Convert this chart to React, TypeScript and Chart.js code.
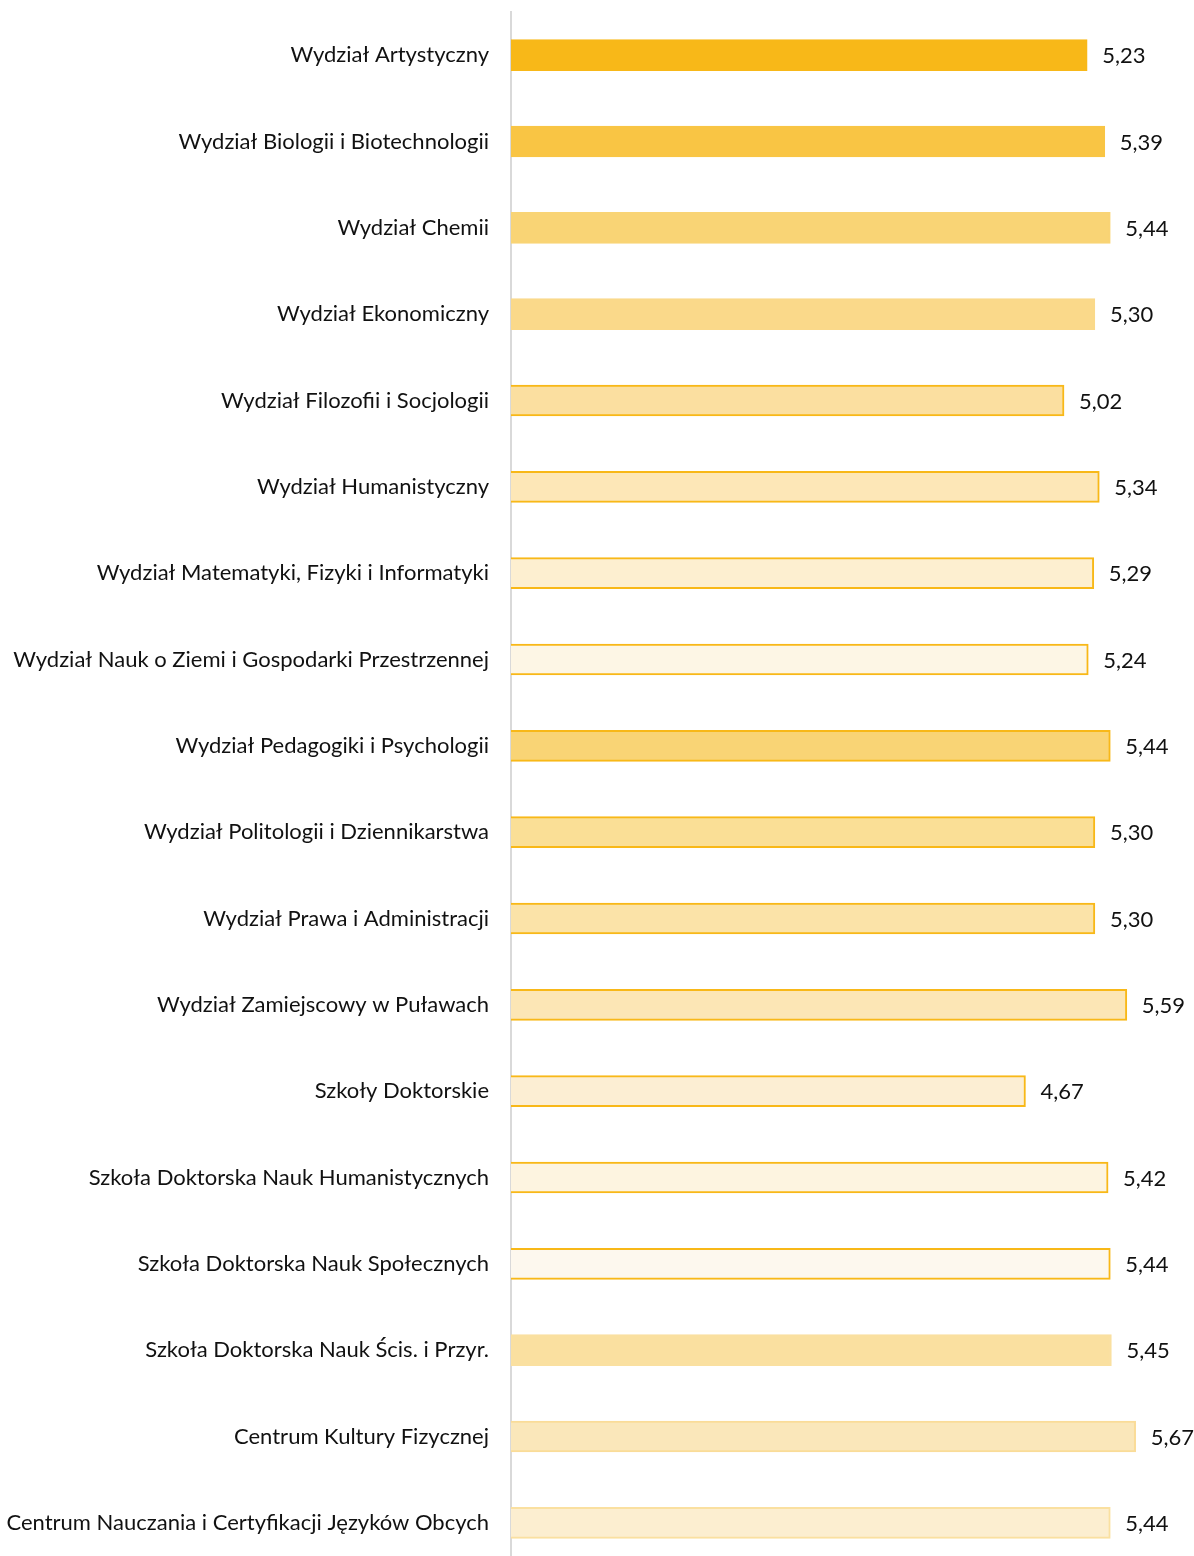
import React, { useEffect, useRef } from "react";
import { Chart, registerables } from "chart.js";

Chart.register(...registerables);

const categories = [
  "Wydział Artystyczny",
  "Wydział Biologii i Biotechnologii",
  "Wydział Chemii",
  "Wydział Ekonomiczny",
  "Wydział Filozofii i Socjologii",
  "Wydział Humanistyczny",
  "Wydział Matematyki, Fizyki i Informatyki",
  "Wydział Nauk o Ziemi i Gospodarki Przestrzennej",
  "Wydział Pedagogiki i Psychologii",
  "Wydział Politologii i Dziennikarstwa",
  "Wydział Prawa i Administracji",
  "Wydział Zamiejscowy w Puławach",
  "Szkoły Doktorskie",
  "Szkoła Doktorska Nauk Humanistycznych",
  "Szkoła Doktorska Nauk Społecznych",
  "Szkoła Doktorska Nauk Ścis. i Przyr.",
  "Centrum Kultury Fizycznej",
  "Centrum Nauczania i Certyfikacji Języków Obcych",
];

const values = [5.23, 5.39, 5.44, 5.3, 5.02, 5.34, 5.29, 5.24, 5.44, 5.3, 5.3, 5.59, 4.67, 5.42, 5.44, 5.45, 5.67, 5.44];

const fillColors = [
  "#F8B818", "#F9C544", "#F9D475", "#FAD98A", "#FBDFA0", "#FDE7B7",
  "#FDEFD0", "#FDF6E5", "#F9D475", "#FADF96", "#FBE3A8", "#FCE6B5",
  "#FCEED3", "#FDF4E0", "#FDF8EE", "#FAE0A0", "#FAE7BA", "#FCEED0",
];

const borderColors = [
  "#F8B818", "#F9C544", "#F9D475", "#FAD98A", "#F8B818", "#F8B818",
  "#F8B818", "#F8B818", "#F8B818", "#F8B818", "#F8B818", "#F8B818",
  "#F8B818", "#F8B818", "#F8B818", "#FAE0A0", "#FADC98", "#FAE0A0",
];

const FONT = "Lato, 'Open Sans', sans-serif";

const valueLabels = {
  id: "valueLabels",
  afterDatasetsDraw(chart: any) {
    const ctx = chart.ctx;
    const meta = chart.getDatasetMeta(0);
    ctx.save();
    ctx.font = `22px ${FONT}`;
    ctx.fillStyle = "#111";
    ctx.textAlign = "left";
    ctx.textBaseline = "middle";
    meta.data.forEach((bar: any, i: number) => {
      const txt = values[i].toFixed(2).replace(".", ",");
      ctx.fillText(txt, bar.x + 15, bar.y + 1);
    });
    ctx.restore();
  },
};

export default function App() {
  const ref = useRef<HTMLCanvasElement>(null);
  useEffect(() => {
    if (!ref.current) return;
    const chart = new Chart(ref.current, {
      type: "bar",
      data: {
        labels: categories,
        datasets: [
          {
            data: values,
            backgroundColor: fillColors,
            borderColor: borderColors,
            borderWidth: 2,
            borderSkipped: "left",
            barThickness: 31,
          },
        ],
      },
      options: {
        indexAxis: "y",
        animation: false,
        responsive: false,
        maintainAspectRatio: false,
        layout: { padding: { top: 12, right: 22, bottom: 4, left: 0 } },
        plugins: { legend: { display: false }, tooltip: { enabled: false } },
        scales: {
          x: { display: false, min: 0, max: 6 },
          y: {
            grid: { display: false, drawTicks: false },
            border: { display: true, color: "#D9D9D9", width: 2 },
            ticks: {
              padding: 22,
              color: "#111",
              font: { family: FONT, size: 22 },
              autoSkip: false,
            },
            afterFit: (scale: any) => {
              scale.width = 511;
              scale.paddingTop = 0;
              scale.paddingBottom = 0;
            },
          },
        },
      },
      plugins: [valueLabels],
    });
    return () => chart.destroy();
  }, []);
  return (
    <div style={{ position: "absolute", left: 0, top: 0, width: 1194, height: 1570 }}>
      <canvas ref={ref} width={1194} height={1570} style={{ display: "block" }} />
    </div>
  );
}
